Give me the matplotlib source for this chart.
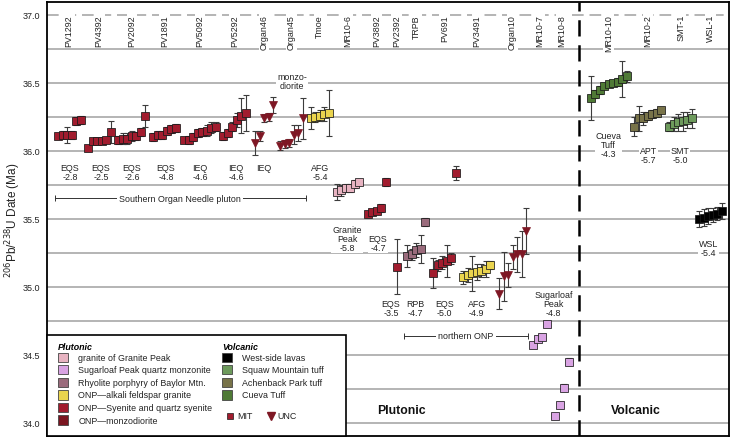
import matplotlib
matplotlib.use("Agg")
import matplotlib.pyplot as plt
from matplotlib.patches import Rectangle

plt.rcParams["font.family"] = ["Liberation Sans", "DejaVu Sans"]
plt.rcParams["font.size"] = 6.3

# 206Pb/238U dates (Ma) and 2-sigma uncertainties, one pair of lists per sample
pv1292_age = [36.11, 36.12, 36.12, 36.12, 36.22, 36.23]
pv1292_err = [0.025, 0.025, 0.06, 0.03, 0.03, 0.03]
pv4392_age = [36.02, 36.07, 36.07, 36.07, 36.08, 36.14]
pv4392_err = [0.02, 0.02, 0.02, 0.02, 0.02, 0.08]
pv2092_age = [36.08, 36.09, 36.09, 36.11, 36.11, 36.14, 36.26]
pv2092_err = [0.03, 0.04, 0.04, 0.04, 0.03, 0.03, 0.08]
pv1891_age = [36.10, 36.12, 36.12, 36.15, 36.16, 36.17]
pv1891_err = [0.03, 0.03, 0.03, 0.03, 0.03, 0.03]
pv5092_age = [36.08, 36.08, 36.10, 36.13, 36.14, 36.15, 36.17, 36.18]
pv5092_err = [0.02, 0.03, 0.03, 0.03, 0.03, 0.04, 0.04, 0.03]
pv5292_age = [36.11, 36.13, 36.18, 36.23, 36.26, 36.28]
pv5292_err = [0.03, 0.03, 0.03, 0.05, 0.13, 0.13]
organ46_age = [36.06, 36.11, 36.24, 36.25, 36.34]
organ46_err = [0.09, 0.04, 0.03, 0.03, 0.06]
organ45_age = [36.04, 36.05, 36.06, 36.12, 36.13, 36.24]
organ45_err = [0.03, 0.03, 0.03, 0.07, 0.06, 0.15]
tmoe_age = [36.24, 36.25, 36.26, 36.27, 36.28]
tmoe_err = [0.08, 0.04, 0.04, 0.05, 0.17]
mr10_6_age = [35.70, 35.71, 35.73, 35.73, 35.76, 35.77]
mr10_6_err = [0.06, 0.04, 0.03, 0.03, 0.03, 0.02]
pv3892_age = [35.54, 35.55, 35.56, 35.58, 35.77]
pv3892_err = [0.02, 0.02, 0.02, 0.03, 0.03]
pv2392_age = [35.15]
pv2392_err = [0.20]
trpb_age = [35.23, 35.24, 35.27, 35.28, 35.48]
trpb_err = [0.08, 0.04, 0.05, 0.10, 0.03]
pv691_age = [35.10, 35.16, 35.18, 35.19, 35.21, 35.84]
pv691_err = [0.11, 0.04, 0.05, 0.12, 0.04, 0.05]
pv3491_age = [35.07, 35.09, 35.10, 35.11, 35.12, 35.13, 35.16]
pv3491_err = [0.05, 0.05, 0.13, 0.06, 0.05, 0.06, 0.03]
organ10_age = [34.95, 35.08, 35.09, 35.22, 35.24, 35.24, 35.41]
organ10_err = [0.115, 0.18, 0.09, 0.09, 0.13, 0.17, 0.17]
mr10_7_age = [34.57, 34.62, 34.63, 34.73]
mr10_7_err = [0.02, 0.02, 0.02, 0.015]
mr10_8_age = [34.05, 34.13, 34.26, 34.45]
mr10_8_err = [0.015, 0.02, 0.025, 0.025]
mr10_10_age = [36.39, 36.42, 36.45, 36.48, 36.49, 36.50, 36.51, 36.53, 36.55]
mr10_10_err = [0.16, 0.03, 0.03, 0.02, 0.02, 0.02, 0.03, 0.13, 0.04]
mr10_2_age = [36.18, 36.24, 36.24, 36.26, 36.27, 36.28, 36.30]
mr10_2_err = [0.07, 0.09, 0.05, 0.03, 0.03, 0.03, 0.02]
smt1_age = [36.18, 36.20, 36.21, 36.22, 36.23, 36.24]
smt1_err = [0.03, 0.05, 0.06, 0.07, 0.06, 0.07]
wsl1_age = [35.50, 35.51, 35.52, 35.53, 35.54, 35.56]
wsl1_err = [0.06, 0.06, 0.06, 0.05, 0.05, 0.06]

# rock type and epsilon-Nd annotations
unit_labels = ["EQS\n-2.8", "EQS\n-2.5", "EQS\n-2.6", "EQS\n-4.8", "IEQ\n-4.6",
               "IEQ\n-4.6", "IEQ", "AFG\n-5.4", "monzo-\ndiorite",
               "Granite\nPeak\n-5.8", "EQS\n-4.7", "EQS\n-3.5", "RPB\n-4.7",
               "EQS\n-5.0", "AFG\n-4.9", "Sugarloaf\nPeak\n-4.8",
               "Cueva\nTuff\n-4.3", "APT\n-5.7", "SMT\n-5.0", "WSL\n-5.4"]

legend_plutonic = ["granite of Granite Peak", "Sugarloaf Peak quartz monzonite",
                   "Rhyolite porphyry of Baylor Mtn.", "ONP\u2014alkali feldspar granite",
                   "ONP\u2014Syenite and quartz syenite", "ONP\u2014monzodiorite"]
legend_volcanic = ["West-side lavas", "Squaw Mountain tuff",
                   "Achenback Park tuff", "Cueva Tuff"]

# colours
C_GP = "#e7b3c1"
C_SP = "#d9a3e3"
C_RPB = "#9a6b7c"
C_AFG = "#ead44e"
C_EQS = "#a11c2e"
C_MZ = "#7a1520"
C_WSL = "#000000"
C_SMT = "#6d9a5c"
C_APT = "#787349"
C_CT = "#4f7a36"
C_TRI = "#7e1724"
plutonic_colours = [C_GP, C_SP, C_RPB, C_AFG, C_EQS, C_MZ]
volcanic_colours = [C_WSL, C_SMT, C_APT, C_CT]

# sample, ages, errors, colour, marker, start x (px)
groups = [
    ("PV1292", pv1292_age, pv1292_err, C_EQS, "s", 58),
    ("PV4392", pv4392_age, pv4392_err, C_EQS, "s", 88),
    ("PV2092", pv2092_age, pv2092_err, C_EQS, "s", 118.3),
    ("PV1891", pv1891_age, pv1891_err, C_EQS, "s", 153.3),
    ("PV5092", pv5092_age, pv5092_err, C_EQS, "s", 184.3),
    ("PV5292", pv5292_age, pv5292_err, C_EQS, "s", 223),
    ("Organ46", organ46_age, organ46_err, C_TRI, "v", 255),
    ("Organ45", organ45_age, organ45_err, C_TRI, "v", 280),
    ("Tmoe", tmoe_age, tmoe_err, C_AFG, "s", 310.7),
    ("MR10-6", mr10_6_age, mr10_6_err, C_GP, "s", 336.7),
    ("PV3892", pv3892_age, pv3892_err, C_EQS, "s", 367.7),
    ("PV2392", pv2392_age, pv2392_err, C_EQS, "s", 396.7),
    ("TRPB", trpb_age, trpb_err, C_RPB, "s", 407.3),
    ("PV691", pv691_age, pv691_err, C_EQS, "s", 433.3),
    ("PV3491", pv3491_age, pv3491_err, C_AFG, "s", 463.3),
    ("Organ10", organ10_age, organ10_err, C_TRI, "v", 499),
    ("MR10-7", mr10_7_age, mr10_7_err, C_SP, "s", 533.3),
    ("MR10-8", mr10_8_age, mr10_8_err, C_SP, "s", 555),
    ("MR10-10", mr10_10_age, mr10_10_err, C_CT, "s", 590.7),
    ("MR10-2", mr10_2_age, mr10_2_err, C_APT, "s", 634.3),
    ("SMT-1", smt1_age, smt1_err, C_SMT, "s", 669.3),
    ("WSL-1", wsl1_age, wsl1_err, C_WSL, "s", 699.3),
]
STEP = 4.5

# annotation positions (px, Ma)
unit_pos = [(70, 35.849), (101, 35.849), (132, 35.849), (166, 35.849), (200, 35.849),
            (236, 35.849), (264, 35.882), (320, 35.849), (292, 36.515),
            (347, 35.357), (378, 35.324), (391, 34.846), (415.7, 34.846),
            (444.3, 34.846), (476.7, 34.846), (553.3, 34.879),
            (608.3, 36.049), (648.3, 35.971), (680, 35.971), (708.3, 35.287)]

W, H = 732, 439
fig = plt.figure(figsize=(W / 100, H / 100), dpi=100)
ax = fig.add_axes([47 / W, 1 - 437 / H, 682 / W, 434 / H])
ax.set_xlim(47, 729)
ax.set_ylim(37.0 - 421 / 136, 37.0 + 13 / 136)
ax.set_xticks([])
ax.set_yticks([34.0, 34.5, 35.0, 35.5, 36.0, 36.5, 37.0])
ax.set_yticklabels(["34.0", "34.5", "35.0", "35.5", "36.0", "36.5", "37.0"])
ax.tick_params(axis="y", length=0, pad=5, labelsize=6.5, labelcolor="#222222")
for s in ax.spines.values():
    s.set_linewidth(1.3)

# grid
for k in range(12):
    ax.axhline(34.0 + 0.25 * k, color="#a8a8a8", lw=1.2, zorder=0.5)
ax.axhline(37.0, color="#a8a8a8", lw=1.2, dashes=(7, 3.5), zorder=0.5)

# plutonic / volcanic divide
ax.axvline(579, color="black", lw=1.8, dashes=(6.5, 3.5), zorder=1)

box = dict(fc="white", ec="none", pad=0.6)
for name, ages, errs, col, mk, x0 in groups:
    xs = [x0 + STEP * i for i in range(len(ages))]
    ax.errorbar(xs, ages, yerr=errs, fmt="none", ecolor="#3c3c3c",
                elinewidth=0.8, capsize=2.1, capthick=0.8, zorder=3)
    if mk == "s":
        ax.plot(xs, ages, ls="none", marker="s", ms=5.4, mfc=col, mec="#1a1a1a",
                mew=0.55, zorder=4)
    else:
        ax.plot(xs, ages, ls="none", marker="v", ms=5.4, mfc=col, mec=col,
                mew=0.5, zorder=4)
    xc = (xs[0] + xs[-1]) / 2
    ax.text(xc, 37.007, name, rotation=90, ha="center", va="top", fontsize=6.4,
            color="#222222", bbox=box, zorder=2)

for txt, (x, y) in zip(unit_labels, unit_pos):
    ax.text(x, y, txt, ha="center", va="center", fontsize=6.4, linespacing=1.0,
            color="#222222", bbox=box, zorder=2)

# pluton brackets
ax.plot([55, 306], [35.654, 35.654], color="#333333", lw=0.7, marker="|", ms=5,
        mew=0.7, zorder=2)
ax.text(180, 35.654, "Southern Organ Needle pluton", ha="center", va="center",
        fontsize=6.4, color="#222222", bbox=dict(fc="white", ec="none", pad=1.5),
        zorder=2.5)
ax.plot([404, 528], [34.642, 34.642], color="#333333", lw=0.7, marker="|", ms=5,
        mew=0.7, zorder=2)
ax.text(466, 34.642, "northern ONP", ha="center", va="center", fontsize=6.4,
        color="#222222", bbox=dict(fc="white", ec="none", pad=1.5), zorder=2.5)

ax.text(401.7, 34.096, "Plutonic", ha="center", va="center", fontsize=8.8,
        fontweight="bold", color="#111111", zorder=2)
ax.text(636, 34.096, "Volcanic", ha="center", va="center", fontsize=8.8,
        fontweight="bold", color="#111111", zorder=2)

fig.text(13 / W, 1 - 220 / H, "$^{206}$Pb/$^{238}$U Date (Ma)", rotation=90,
         ha="center", va="center", fontsize=8.5, color="#222222")

# legend drawn in pixel space
lg = fig.add_axes([0, 0, 1, 1])
lg.set_xlim(0, W)
lg.set_ylim(H, 0)
lg.axis("off")
lg.add_patch(Rectangle((47, 336), 299, 101, fc="white", ec="black", lw=1.2))
lg.text(58, 347.5, "Plutonic", fontsize=6.4, fontweight="bold", style="italic",
        va="center", ha="left")
lg.text(222, 347.5, "Volcanic", fontsize=6.4, fontweight="bold", style="italic",
        va="center", ha="left")
row_y = [358.3 + 12.55 * i for i in range(6)]
for lab, col, y in zip(legend_plutonic, plutonic_colours, row_y):
    lg.add_patch(Rectangle((58.3, y - 4.6), 10, 9.2, fc=col, ec="#444444", lw=0.6))
    lg.text(78.3, y, lab, fontsize=6.4, va="center", ha="left", color="#222222")
for lab, col, y in zip(legend_volcanic, volcanic_colours, row_y):
    lg.add_patch(Rectangle((222, y - 4.6), 10, 9.2, fc=col, ec="#444444", lw=0.6))
    lg.text(241.7, y, lab, fontsize=6.4, va="center", ha="left", color="#222222")
lg.plot([229.5], [416.7], marker="s", ms=4.8, mfc=C_EQS, mec="#1a1a1a", mew=0.5)
lg.text(237.3, 416.7, "MIT", fontsize=6.4, va="center", ha="left", color="#222222")
lg.plot([270.5], [416.7], marker="v", ms=5.4, mfc=C_TRI, mec=C_TRI)
lg.text(277.7, 416.7, "UNC", fontsize=6.4, va="center", ha="left", color="#222222")

fig.savefig("out.png", dpi=100)
